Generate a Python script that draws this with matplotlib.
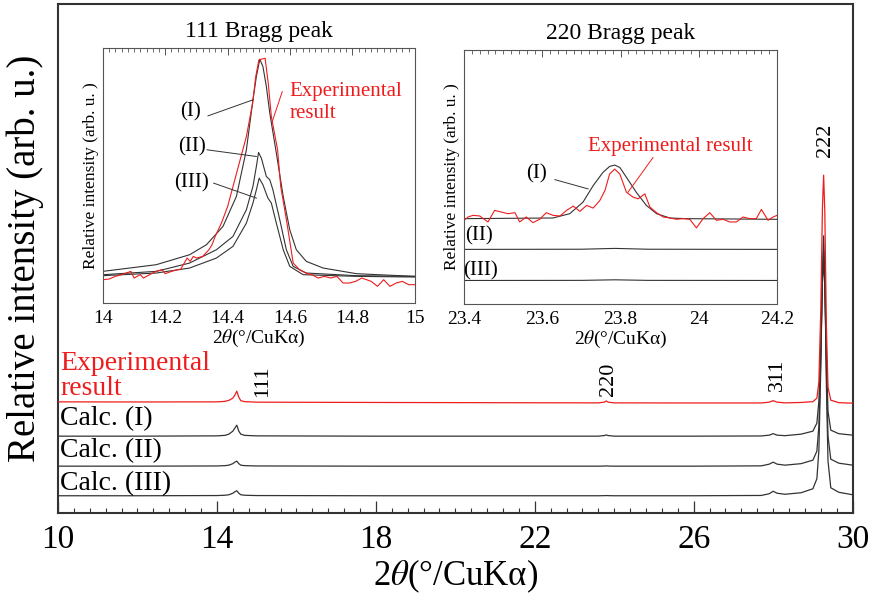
import matplotlib
matplotlib.use("Agg")
import matplotlib.pyplot as plt

plt.rcParams['font.family'] = ['Liberation Serif', 'DejaVu Serif']
plt.rcParams['mathtext.fontset'] = 'stix'

RED = '#ee1c1c'
BLK = '#333333'

# ---------------- main pattern (x in degrees, heights in arbitrary units above each baseline)
main_x = [10.0, 12.0, 14.0, 14.2, 14.3, 14.4, 14.45, 14.5, 14.55, 14.6, 14.7, 15.0, 18.0, 22.0,
          23.6, 23.75, 23.8, 23.85, 24.0, 26.0, 27.7, 27.9, 28.0, 28.1, 28.3, 28.7, 29.0, 29.1,
          29.15, 29.2, 29.24, 29.27, 29.3, 29.34, 29.38, 29.45, 29.65, 30.0]
exp_h = [0.3, 0.2, 0.3, 0.8, 1.8, 4, 7, 11, 5, 1.5, 0.5, 0, -0.3, -0.6,
         -0.7, 0, 1.2, 0, -0.7, -0.8, -0.8, 0, 1.5, 0, -0.7, -0.3, 0.5, 4,
         20, 95, 195, 227, 190, 75, 15, 2, -0.5, -1]
calc1_h = [0, 0, 0.3, 0.8, 2, 5, 8, 11, 5, 2, 0.8, 0.3, 0, 0,
           0, 0.6, 1.2, 0.6, 0, 0, 0.2, 1, 2.5, 1, 0.5, 2, 5, 13,
           35, 90, 155, 174, 150, 80, 25, 6, 2.5, 1]
calc2_h = [0, 0, 0.2, 0.5, 1, 2.5, 4, 5, 2.5, 1, 0.5, 0.2, 0, 0,
           0, 0.1, 0.3, 0.1, 0, 0, 0.3, 2, 4, 2, 1, 2.5, 6, 15,
           40, 110, 190, 216, 185, 95, 30, 7, 3, 1]
calc3_h = [0, 0, 0.2, 0.5, 1, 2.5, 4, 5, 2.5, 1, 0.5, 0.2, 0, 0,
           0, 0.1, 0.2, 0.1, 0, 0, 0.3, 2, 4.5, 2.5, 1.5, 3, 7, 17,
           45, 130, 225, 260, 220, 110, 35, 8, 3.5, 1]
offsets = {'exp': 111, 'I': 77, 'II': 47, 'III': 17.4}
main_ticks = [10, 14, 18, 22, 26, 30]
peak_labels = ['111', '220', '311', '222']
peak_label_x = [15.16, 23.85, 28.1, 29.32]
peak_label_y = [132, 134, 138, 373]

# ---------------- inset 1 (111 Bragg peak)
in1_exp_x = [14.00, 14.02, 14.04, 14.06, 14.09, 14.10, 14.12, 14.13, 14.15, 14.17,
             14.19, 14.20, 14.22, 14.24, 14.25, 14.27, 14.28, 14.29, 14.30, 14.32,
             14.34, 14.35, 14.36, 14.38, 14.40, 14.42, 14.44, 14.46, 14.48, 14.49,
             14.50, 14.52, 14.53, 14.54, 14.56, 14.57, 14.59, 14.61, 14.63, 14.65,
             14.67, 14.69, 14.71, 14.73, 14.75, 14.77, 14.79, 14.81, 14.83, 14.86,
             14.88, 14.90, 14.92, 14.94, 14.96, 14.98, 15.00]
in1_exp_y = [70, 72, 80, 85, 95, 75, 85, 75, 85, 95,
             100, 88, 95, 100, 102, 135, 125, 140, 135, 140,
             160, 175, 200, 240, 290, 360, 430, 500, 600, 680,
             730, 735, 660, 560, 460, 350, 240, 120, 100, 90,
             85, 75, 80, 75, 80, 60, 60, 65, 75, 65,
             50, 70, 50, 60, 65, 55, 55]
in1_c1_x = [14.000, 14.171, 14.278, 14.332, 14.385, 14.428, 14.460, 14.481, 14.492, 14.503,
            14.513, 14.524, 14.535, 14.556, 14.578, 14.599, 14.620, 14.652, 14.706, 14.813, 15.000]
in1_c1_y = [95, 115, 145, 175, 230, 320, 460, 610, 680, 732,
            710, 650, 570, 450, 320, 220, 160, 125, 105, 88, 80]
in1_c2_x = [14.000, 14.171, 14.278, 14.364, 14.417, 14.460, 14.481, 14.492, 14.499, 14.508,
            14.524, 14.535, 14.545, 14.567, 14.588, 14.610, 14.652, 14.813, 15.000]
in1_c2_y = [85, 95, 120, 160, 200, 280, 350, 410, 452, 435,
            380, 370, 340, 250, 160, 110, 90, 82, 80]
in1_c3_x = [14.000, 14.171, 14.278, 14.364, 14.417, 14.460, 14.481, 14.492, 14.501, 14.513,
            14.529, 14.540, 14.556, 14.578, 14.599, 14.642, 14.813, 15.000]
in1_c3_y = [82, 90, 105, 135, 170, 240, 300, 340, 375, 355,
            315, 300, 240, 160, 110, 85, 80, 78]
in1_ticks = [14, 14.2, 14.4, 14.6, 14.8, 15]
in1_ticklabels = ['14', '14.2', '14.4', '14.6', '14.8', '15']

# ---------------- inset 2 (220 Bragg peak)
in2_exp_x = [23.400, 23.410, 23.423, 23.440, 23.461, 23.478, 23.495, 23.512, 23.530, 23.542,
             23.559, 23.576, 23.593, 23.610, 23.627, 23.645, 23.662, 23.679, 23.696, 23.713,
             23.730, 23.747, 23.760, 23.772, 23.785, 23.798, 23.815, 23.832, 23.845, 23.862,
             23.875, 23.892, 23.909, 23.926, 23.943, 23.960, 23.977, 23.994, 24.011, 24.028,
             24.045, 24.062, 24.079, 24.096, 24.113, 24.130, 24.147, 24.160, 24.177, 24.190, 24.200]
in2_exp_y = [252, 262, 267, 265, 247, 282, 277, 272, 275, 247,
             262, 245, 255, 275, 267, 265, 282, 295, 279, 297,
             289, 312, 342, 392, 407, 392, 337, 322, 317, 332,
             292, 275, 262, 259, 255, 257, 255, 229, 257, 275,
             252, 255, 247, 247, 262, 257, 257, 285, 252, 262, 267]
in2_c1_x = [23.400, 23.627, 23.670, 23.704, 23.730, 23.755, 23.772, 23.785, 23.798, 23.815,
            23.840, 23.866, 23.892, 23.926, 23.968, 24.200]
in2_c1_y = [257, 259, 272, 307, 357, 397, 415, 419, 412, 382,
            337, 297, 272, 259, 257, 255]
in2_c23_x = [23.400, 23.70, 23.785, 23.87, 24.200]
in2_c2_y = [164, 164.5, 167, 164.5, 164]
in2_c3_y = [70, 70.3, 72, 70.3, 70]
in2_ticks = [23.4, 23.6, 23.8, 24.0, 24.2]
in2_ticklabels = ['23.4', '23.6', '23.8', '24', '24.2']

xlabel = '2$\\theta$(°/CuKα)'
ylabel_main = 'Relative intensity (arb. u.)'
ylabel_inset = 'Relative intensity (arb. u. )'

fig = plt.figure(figsize=(8.79, 6.03), dpi=100)

# ---------------- main axes
ax = fig.add_axes([0.066, 0.149, 0.904, 0.844])
ax.plot(main_x, [h + offsets['exp'] for h in exp_h], color=RED, lw=0.9, zorder=3)
for hs, key in [(calc1_h, 'I'), (calc2_h, 'II'), (calc3_h, 'III')]:
    ax.plot(main_x, [h + offsets[key] for h in hs], color=BLK, lw=0.9, zorder=2)
ax.set_xlim(10, 30)
ax.set_ylim(0, 509)
ax.set_xticks(main_ticks)
ax.set_xticks([10 + 0.4 * i for i in range(51)], minor=True)
ax.set_yticks([])
ax.tick_params(axis='x', which='both', direction='in', top=False, bottom=True,
               labelsize=24, pad=8, color='#333333')
ax.tick_params(axis='x', which='major', length=8.5, width=0.9)
ax.tick_params(axis='x', which='minor', length=3.6, width=0.8)
for s in ax.spines.values():
    s.set_color('#333333')
    s.set_linewidth(1.5)
ax.set_xlabel(xlabel, fontsize=25, labelpad=2)
ax.set_ylabel(ylabel_main, fontsize=28, labelpad=10)

for lab, lx, ly in zip(peak_labels, peak_label_x, peak_label_y):
    ax.text(lx, ly, lab, rotation=90, ha='center', va='center', fontsize=16)

ax.text(10.05, 137, 'Experimental\nresult', color=RED, fontsize=20, ha='left', va='center',
        linespacing=1.0)
ax.text(10.05, 95, 'Calc. (I)', fontsize=20, ha='left', va='center')
ax.text(10.05, 63, 'Calc. (II)', fontsize=20, ha='left', va='center')
ax.text(10.05, 30, 'Calc. (III)', fontsize=20, ha='left', va='center')


def style_inset(a, ticks, ticklabels, minor, title):
    a.set_xticks(ticks)
    a.set_xticklabels(ticklabels)
    a.set_xticks(minor, minor=True)
    a.set_yticks([])
    a.tick_params(axis='x', which='both', direction='in', top=True, bottom=False,
                  labelbottom=True, labeltop=False, labelsize=14, pad=5, color='#555555')
    a.tick_params(axis='x', which='major', length=5, width=0.7)
    a.tick_params(axis='x', which='minor', length=3, width=0.6)
    for s in a.spines.values():
        s.set_color('#555555')
        s.set_linewidth(0.8)
    a.set_xlabel(xlabel, fontsize=14, labelpad=1)
    a.set_ylabel(ylabel_inset, fontsize=12.5, labelpad=3)
    a.set_title(title, fontsize=17, pad=8)


# ---------------- inset 1
a1 = fig.add_axes([0.117, 0.4975, 0.355, 0.4225])
a1.plot(in1_c1_x, in1_c1_y, color=BLK, lw=0.8)
a1.plot(in1_c2_x, in1_c2_y, color=BLK, lw=0.8)
a1.plot(in1_c3_x, in1_c3_y, color=BLK, lw=0.8)
a1.plot(in1_exp_x, in1_exp_y, color=RED, lw=0.8)
a1.set_xlim(14, 15)
a1.set_ylim(0, 765)
style_inset(a1, in1_ticks, in1_ticklabels, [14 + 0.02 * i for i in range(51)], '111 Bragg peak')
a1.text(14.28, 575, '(I)', fontsize=15, ha='center', va='center')
a1.plot([14.337, 14.481], [562, 610], color=BLK, lw=0.7)
a1.text(14.287, 470, '(II)', fontsize=15, ha='center', va='center')
a1.plot([14.334, 14.492], [460, 440], color=BLK, lw=0.7)
a1.text(14.283, 360, '(III)', fontsize=15, ha='center', va='center')
a1.plot([14.355, 14.492], [360, 315], color=BLK, lw=0.7)
a1.text(14.599, 602, 'Experimental\nresult', color=RED, fontsize=15, ha='left', va='center',
        linespacing=1.15)
a1.plot([14.543, 14.575], [545, 635], color=RED, lw=0.7)

# ---------------- inset 2
a2 = fig.add_axes([0.528, 0.4965, 0.356, 0.4205])
a2.plot(in2_c1_x, in2_c1_y, color=BLK, lw=0.8)
a2.plot(in2_c23_x, in2_c2_y, color=BLK, lw=0.8)
a2.plot(in2_c23_x, in2_c3_y, color=BLK, lw=0.8)
a2.plot(in2_exp_x, in2_exp_y, color=RED, lw=0.8)
a2.set_xlim(23.4, 24.2)
a2.set_ylim(0, 767)
style_inset(a2, in2_ticks, in2_ticklabels, [23.4 + 0.02 * i for i in range(41)], '220 Bragg peak')
a2.text(23.585, 392, '(I)', fontsize=15, ha='center', va='center')
a2.plot([23.632, 23.717], [375, 347], color=BLK, lw=0.7)
a2.text(23.402, 204, '(II)', fontsize=15, ha='left', va='center')
a2.text(23.397, 100, '(III)', fontsize=15, ha='left', va='center')
a2.text(23.717, 474, 'Experimental result', color=RED, fontsize=15, ha='left', va='center')
a2.plot([23.883, 23.819], [442, 337], color=RED, lw=0.7)

fig.savefig('out.png', dpi=100)
